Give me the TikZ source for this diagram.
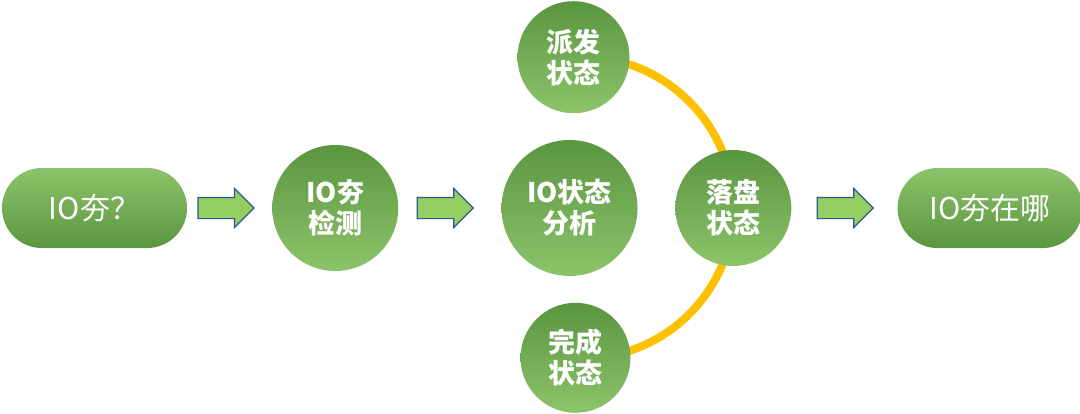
\documentclass[tikz,border=0pt]{standalone}
\usepackage{fontspec}
\setmainfont{Noto Sans CJK SC}
\usetikzlibrary{shapes,positioning,arrows}
\definecolor{ballTop}{HTML}{5A9540}
\definecolor{ballBot}{HTML}{8CC46B}
\definecolor{arrowFill}{HTML}{92D062}
\definecolor{arrowLine}{HTML}{2F5597}
\definecolor{ringOrange}{HTML}{FFC000}
\pgfdeclarelayer{background}
\pgfsetlayers{background,main}

\begin{document}
\begin{tikzpicture}[
    x=0.5pt, y=-0.5pt,
    pill/.style ={
        rectangle, rounded corners=19.9pt,
        minimum width=92.5pt, minimum height=40pt,
        top color=ballBot, bottom color=ballTop,
        text=white, font=\fontsize{15pt}{18pt}\selectfont,
    },
    ball/.style ={
        circle, inner sep=0pt, minimum size=#1,
        top color=ballTop, bottom color=ballBot,
        text=white, align=center,
        font=\bfseries\fontsize{13.5pt}{15.5pt}\selectfont,
    },
    go/.style ={
        single arrow, draw=arrowLine, fill=arrowFill, line width=0.6pt,
        inner xsep=0pt, inner ysep=5pt, minimum height=28pt,
        single arrow head extend=4.5pt,
    },
    ring/.style ={
        line width=4pt, draw=ringOrange,
    }
    ]
    \useasboundingbox (0,0) rectangle (1080,413);
    \node[pill] (io) at (94.5,208) {IO夯？};
    \node[go, right=5pt of io] (go1) {};
    \node[ball=63pt, right=8.5pt of go1] (detect) {IO夯\\检测};
    \node[go, right=9pt of detect] (go2) {};
    \node[ball=68pt, right=13.5pt of go2] (analyse) {IO状态\\分析};
    \node[ball=56pt, above=13pt of analyse, xshift=2pt] (dispatch) {派发\\状态};
    \node[ball=55pt, below=13pt of analyse, xshift=3pt] (done) {完成\\状态};
    \node[ball=58pt, right=18.5pt of analyse] (flush) {落盘\\状态};
    \node[go, right=12.5pt of flush] (go3) {};
    \node[pill, right=11.5pt of go3] (where) {IO夯在哪};
    % ring behind the state circles
    \begin{pgfonlayer}{background}
        \draw[ring] (dispatch.center) to[bend left=47] (flush.center)
            to[bend left=47] (done.center);
    \end{pgfonlayer}
\end{tikzpicture}
\end{document}
